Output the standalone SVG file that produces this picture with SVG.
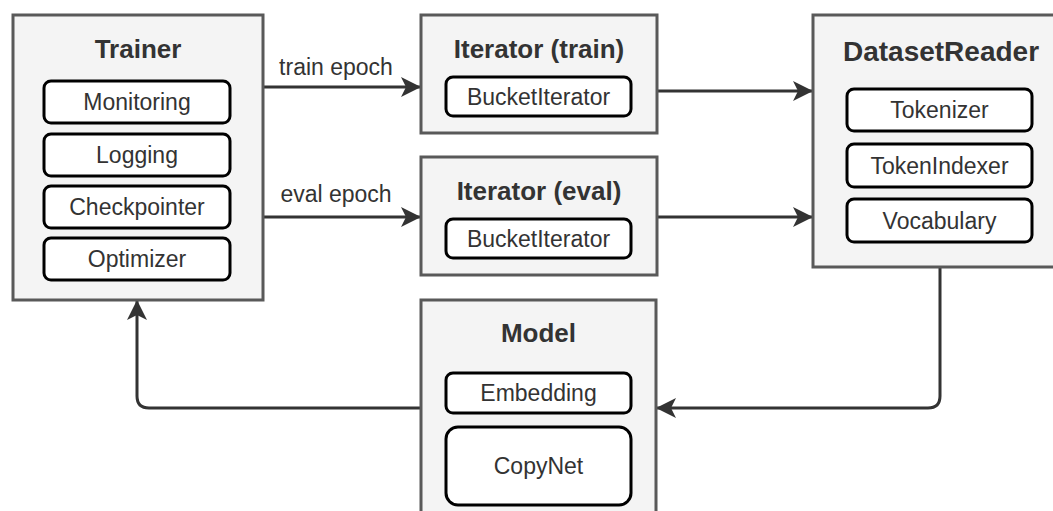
<svg xmlns="http://www.w3.org/2000/svg" width="1053" height="511" viewBox="0 0 1053 511">
  <defs>
    <marker id="arrow" viewBox="0 0 20 20" refX="19" refY="10" markerWidth="20" markerHeight="20" markerUnits="userSpaceOnUse" orient="auto">
      <path d="M0,0 L20,10 L0,20 L5,10 Z" fill="#333333"/>
    </marker>
    <style>
      .outer { fill: #f4f4f4; stroke: #595959; stroke-width: 3; }
      .inner { fill: #ffffff; stroke: #000000; stroke-width: 3; }
      .title { font-family: "Liberation Sans", Arial, sans-serif; font-weight: bold; font-size: 26px; fill: #333333; text-anchor: middle; }
      .label { font-family: "Liberation Sans", Arial, sans-serif; font-size: 23px; fill: #333333; text-anchor: middle; }
      .edge { fill: none; stroke: #333333; stroke-width: 3; marker-end: url(#arrow); }
    </style>
  </defs>
  <rect width="1053" height="511" fill="#ffffff"/>

  <g id="connectors">
    <path class="edge" d="M263,87 L420,87"/>
    <path class="edge" d="M263,217 L420,217"/>
    <path class="edge" d="M657,91 L812,91"/>
    <path class="edge" d="M657,217 L812,217"/>
    <path class="edge" d="M940,267 L940,396 Q940,408 928,408 L657,408"/>
    <path class="edge" d="M421,408 L149,408 Q137,408 137,396 L137,301"/>
    <text class="label" x="336" y="75">train epoch</text>
    <text class="label" x="336" y="202">eval epoch</text>
  </g>

  <g id="trainer">
    <rect class="outer" x="13" y="15" width="250" height="285"/>
    <text class="title" x="138" y="58">Trainer</text>
    <rect class="inner" x="44" y="81" width="186" height="42" rx="7"/>
    <text class="label" x="137" y="110">Monitoring</text>
    <rect class="inner" x="44" y="134" width="186" height="42" rx="7"/>
    <text class="label" x="137" y="163">Logging</text>
    <rect class="inner" x="44" y="186" width="186" height="42" rx="7"/>
    <text class="label" x="137" y="215">Checkpointer</text>
    <rect class="inner" x="44" y="238" width="186" height="42" rx="7"/>
    <text class="label" x="137" y="267">Optimizer</text>
  </g>

  <g id="iterator-train">
    <rect class="outer" x="421" y="15" width="236" height="118"/>
    <text class="title" x="539" y="58">Iterator (train)</text>
    <rect class="inner" x="446" y="77" width="185" height="39" rx="7"/>
    <text class="label" x="538.5" y="105">BucketIterator</text>
  </g>

  <g id="iterator-eval">
    <rect class="outer" x="421" y="157" width="236" height="118"/>
    <text class="title" x="539" y="200">Iterator (eval)</text>
    <rect class="inner" x="446" y="219" width="185" height="39" rx="7"/>
    <text class="label" x="538.5" y="247">BucketIterator</text>
  </g>

  <g id="dataset-reader">
    <rect class="outer" x="813" y="15" width="256" height="252"/>
    <text class="title" x="941" y="61" style="font-size:28px">DatasetReader</text>
    <rect class="inner" x="847" y="89" width="185" height="42" rx="7"/>
    <text class="label" x="939.5" y="118">Tokenizer</text>
    <rect class="inner" x="847" y="144" width="185" height="43" rx="7"/>
    <text class="label" x="939.5" y="174">TokenIndexer</text>
    <rect class="inner" x="847" y="199" width="185" height="43" rx="7"/>
    <text class="label" x="939.5" y="229">Vocabulary</text>
  </g>

  <g id="model">
    <rect class="outer" x="421" y="300" width="235" height="230"/>
    <text class="title" x="538.5" y="342">Model</text>
    <rect class="inner" x="446" y="373" width="185" height="40" rx="7"/>
    <text class="label" x="538.5" y="401">Embedding</text>
    <rect class="inner" x="446" y="427" width="185" height="78" rx="12"/>
    <text class="label" x="538.5" y="474">CopyNet</text>
  </g>
</svg>
